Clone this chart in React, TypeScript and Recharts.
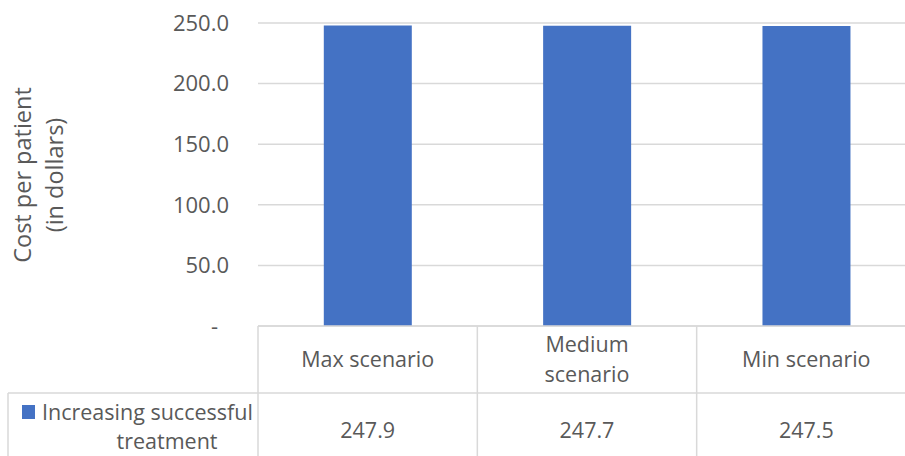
import { BarChart, Bar, XAxis, YAxis, CartesianGrid, Label } from 'recharts';

const categories = ['Max scenario', 'Medium scenario', 'Min scenario'];
const costs = [247.9, 247.7, 247.5];
const seriesName = 'Increasing successful treatment';
const yTicks = [0, 50, 100, 150, 200, 250];
const yLabelLines = ['Cost per patient', '(in dollars)'];

const data = categories.map((name, i) => ({ name, cost: costs[i] }));

const CHART_W = 918;
const CHART_H = 456;
const MARGIN = { top: 23, right: 2, bottom: 0, left: 0 };
const Y_W = 258;
const X_H = 130;
const PLOT_BOTTOM = CHART_H - MARGIN.bottom - X_H;
const BAND = (CHART_W - MARGIN.left - MARGIN.right - Y_W) / categories.length;
const ROW_SPLIT = 393;
const TABLE_LEFT = 8;
const GRID = '#d9d9d9';
const TEXT = '#595959';
const BLUE = '#4472c4';
const FONT = 21.5;

// greedy word wrap, roughly how excel breaks the table cells
const wrap = (text: string, maxChars: number) => {
  const lines: string[] = [];
  let cur = '';
  text.split(' ').forEach(w => {
    const next = cur ? cur + ' ' + w : w;
    if (next.length > maxChars && cur) {
      lines.push(cur);
      cur = w;
    } else {
      cur = next;
    }
  });
  if (cur) lines.push(cur);
  return lines;
};

const TableTick = (props: any) => {
  const { x, payload, index } = props;
  const left = x - BAND / 2;
  const lines = wrap(String(payload.value), 13);
  const catMid = (PLOT_BOTTOM + ROW_SPLIT) / 2;
  const valMid = 430;
  const nameLines = wrap(seriesName, 21);
  return (
    <g>
      <line x1={left} x2={left} y1={PLOT_BOTTOM} y2={CHART_H + 10} stroke={GRID} strokeWidth={1.5} />
      {lines.map((l, i) => (
        <text
          key={i}
          x={x}
          y={catMid + (i - (lines.length - 1) / 2) * 30}
          dy="0.35em"
          textAnchor="middle"
          fill={TEXT}
          fontSize={FONT}
        >
          {l}
        </text>
      ))}
      <text x={x} y={valMid} dy="0.35em" textAnchor="middle" fill={TEXT} fontSize={FONT}>
        {costs[index].toFixed(1)}
      </text>
      {index === 0 && (
        <g>
          <line x1={TABLE_LEFT} x2={CHART_W} y1={ROW_SPLIT} y2={ROW_SPLIT} stroke={GRID} strokeWidth={1.5} />
          <line x1={TABLE_LEFT} x2={TABLE_LEFT} y1={ROW_SPLIT} y2={CHART_H + 10} stroke={GRID} strokeWidth={1.5} />
          <rect x={22} y={405} width={13} height={14} fill={BLUE} />
          <text x={42} y={412} dy="0.35em" fill={TEXT} fontSize={FONT}>
            {nameLines[0]}
          </text>
          <text x={167} y={441} dy="0.35em" textAnchor="middle" fill={TEXT} fontSize={FONT}>
            {nameLines[1]}
          </text>
        </g>
      )}
    </g>
  );
};

const YTick = (props: any) => {
  const { x, y, payload } = props;
  const v = payload.value as number;
  return (
    <text x={v === 0 ? x - 11 : x} y={y} dy="0.35em" textAnchor="end" fill={TEXT} fontSize={22}>
      {v === 0 ? '-' : v.toFixed(1)}
    </text>
  );
};

const YTitle = () => {
  const cy = 175;
  const xs = [22, 54];
  return (
    <g>
      {yLabelLines.map((l, i) => (
        <text
          key={i}
          x={xs[i]}
          y={cy}
          textAnchor="middle"
          dominantBaseline="central"
          transform={`rotate(-90, ${xs[i]}, ${cy})`}
          fill={TEXT}
          fontSize={23.5}
        >
          {l}
        </text>
      ))}
    </g>
  );
};

export default function App() {
  return (
    <div style={{ position: 'fixed', left: 0, top: 0, width: 905, height: 456, overflow: 'hidden', background: '#fff' }}>
      <BarChart
        width={CHART_W}
        height={CHART_H}
        data={data}
        margin={MARGIN}
        barCategoryGap="30%"
        style={{ fontFamily: '"Open Sans", sans-serif' }}
      >
        <CartesianGrid vertical={false} stroke={GRID} strokeWidth={1.5} />
        <XAxis
          dataKey="name"
          height={X_H}
          interval={0}
          tickLine={false}
          axisLine={{ stroke: GRID, strokeWidth: 1.5 }}
          tick={<TableTick />}
        />
        <YAxis
          width={Y_W}
          domain={[0, 250]}
          ticks={yTicks}
          axisLine={false}
          tickLine={false}
          tickMargin={23}
          tick={<YTick />}
        >
          <Label content={<YTitle />} />
        </YAxis>
        <Bar dataKey="cost" name={seriesName} fill={BLUE} isAnimationActive={false} />
      </BarChart>
    </div>
  );
}
